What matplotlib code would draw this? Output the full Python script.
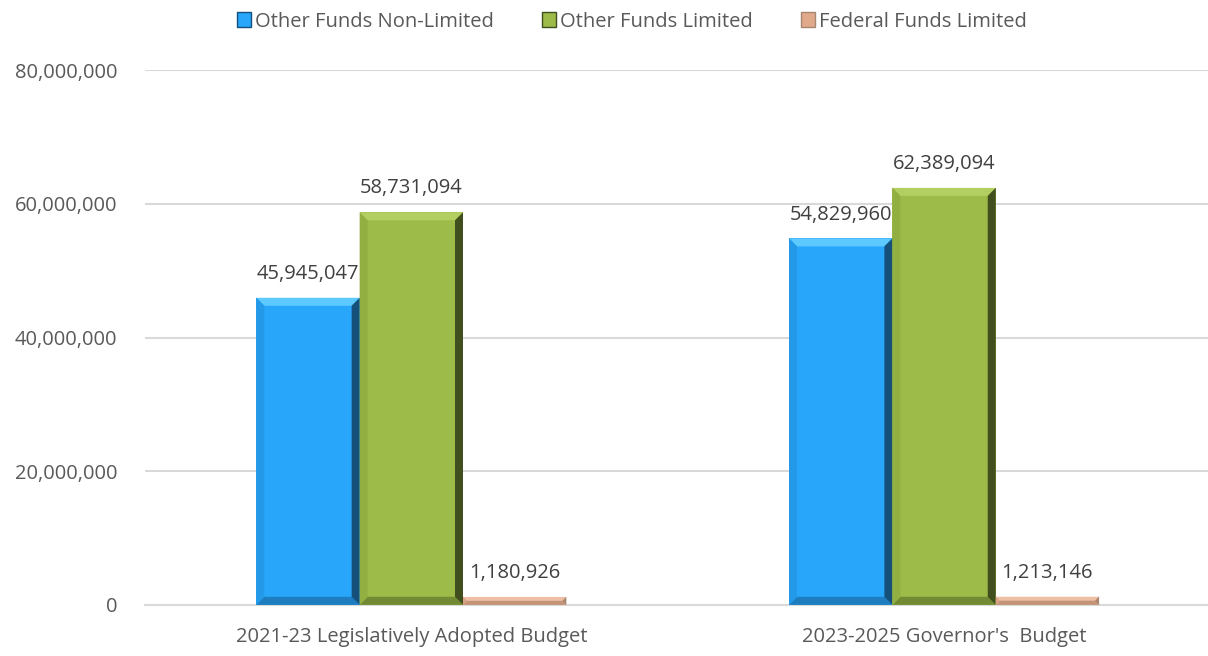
import matplotlib.pyplot as plt
from matplotlib.patches import Polygon, Patch
from matplotlib.ticker import FuncFormatter
import numpy as np

categories = ["2021-23 Legislatively Adopted Budget", "2023-2025 Governor's  Budget"]
series_names = ["Other Funds Non-Limited", "Other Funds Limited", "Federal Funds Limited"]
other_nonlimited = [45945047, 54829960]
other_limited = [58731094, 62389094]
federal_limited = [1180926, 1213146]

# main, top, left, right, bottom shades for the bevel look
shades = [
    ("#27A6FA", "#5CC9FF", "#2399E8", "#15507A", "#1E7DBF"),
    ("#9CBB48", "#B3CF62", "#92B042", "#414F1E", "#728A33"),
    ("#E0A98A", "#EDBFA5", "#DAA385", "#A8866F", "#C49479"),
]

plt.rcParams['font.family'] = ['Open Sans', 'DejaVu Sans']
text_color = '#595959'
grid_color = '#D9D9D9'

fig = plt.figure(figsize=(12.08, 6.56), dpi=100)
ax = fig.add_axes([0.12, 0.078, 0.882, 0.815])

x = np.arange(len(categories))
width = 0.194
ax.set_xlim(-0.5, 1.5)
ax.set_ylim(0, 80000000)

bevel_px = 8
ax_w_px = 0.882 * 1208
ax_h_px = 0.815 * 656
dx = bevel_px * 2.0 / ax_w_px
dy_unit = bevel_px * 80000000 / ax_h_px

all_series = [other_nonlimited, other_limited, federal_limited]
for i, vals in enumerate(all_series):
    main, top, left, right, bottom = shades[i]
    bars = ax.bar(x + (i - 1) * width, vals, width, color=main, zorder=3, linewidth=0)
    for b in bars:
        x0 = b.get_x()
        x1 = x0 + b.get_width()
        h = b.get_height()
        dy = min(dy_unit, h / 2)
        ddx = dx if dy == dy_unit else dx * dy / dy_unit
        pieces = [
            ([(x0, h), (x1, h), (x1 - ddx, h - dy), (x0 + ddx, h - dy)], top),
            ([(x0, 0), (x1, 0), (x1 - ddx, dy), (x0 + ddx, dy)], bottom),
            ([(x0, 0), (x0 + ddx, dy), (x0 + ddx, h - dy), (x0, h)], left),
            ([(x1, 0), (x1 - ddx, dy), (x1 - ddx, h - dy), (x1, h)], right),
        ]
        for pts, c in pieces:
            ax.add_patch(Polygon(pts, closed=True, facecolor=c, edgecolor='none', zorder=4))
        ax.annotate(f"{int(h):,}", (b.get_x() + b.get_width() / 2, h),
                    xytext=(0, 10), textcoords='offset points', ha='center', va='bottom',
                    fontsize=14.5, color='#404040', zorder=5)

ax.set_yticks(np.arange(0, 80000001, 20000000))
ax.yaxis.set_major_formatter(FuncFormatter(lambda v, p: f"{int(v):,}"))
ax.set_xticks(x)
ax.set_xticklabels(categories)
ax.tick_params(axis='both', length=0, labelsize=14.5, labelcolor=text_color)
ax.tick_params(axis='y', pad=20)
ax.tick_params(axis='x', pad=16)
ax.grid(axis='y', color=grid_color, linewidth=1.5, zorder=0)
for s in ['top', 'right', 'left']:
    ax.spines[s].set_visible(False)
ax.spines['bottom'].set_color(grid_color)
ax.spines['bottom'].set_linewidth(1.5)

handles = [Patch(facecolor=shades[i][0], edgecolor=shades[i][3], linewidth=1.0, label=series_names[i])
           for i in range(3)]
fig.legend(handles=handles, loc='upper center', bbox_to_anchor=(0.523, 1.01), ncol=3,
           frameon=False, fontsize=14.5, labelcolor=text_color, handlelength=0.7,
           handleheight=0.7, handletextpad=0.2, columnspacing=2.4)

fig.savefig('out.png', dpi=100)
